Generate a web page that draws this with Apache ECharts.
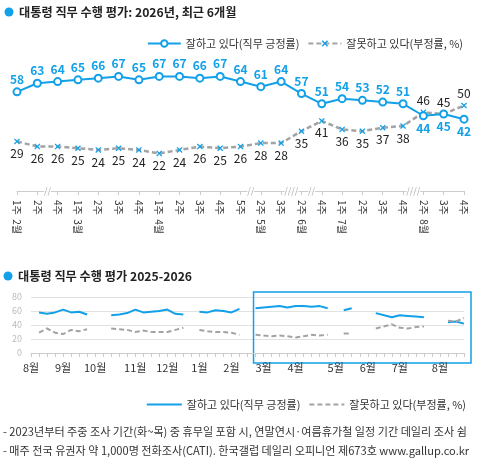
<!DOCTYPE html>
<html>
<head>
<meta charset="utf-8">
<script src="https://cdn.jsdelivr.net/npm/echarts@6/dist/echarts.min.js"></script>
<style>
  html, body { margin: 0; padding: 0; background: #fff; }
  #main { width: 482px; height: 463px; }
</style>
</head>
<body>
<div id="main"></div>
<script>
// 최근 6개월 (상단)
var weeks = ['2월 1주', '2월 2주', '2월 4주', '3월 1주', '3월 2주', '3월 3주', '3월 4주',
  '4월 1주', '4월 2주', '4월 3주', '4월 4주', '4월 5주', '5월 2주', '5월 3주', '6월 2주',
  '6월 4주', '7월 1주', '7월 2주', '7월 3주', '7월 4주', '8월 2주', '8월 3주', '8월 4주'];
var approve = [58, 63, 64, 65, 66, 67, 65, 67, 67, 66, 67, 64, 61, 64, 57, 51, 54, 53, 52, 51, 44, 45, 42];
var disapprove = [29, 26, 26, 25, 24, 25, 24, 22, 24, 26, 25, 26, 28, 28, 35, 41, 36, 35, 37, 38, 46, 45, 50];
// 조사 공백 표시 (두 주 사이)
var breakPos = [1.5, 11.5, 13.5, 14.5, 19.5];
var breakText = ['//', '//', '////', '//', '////'];

// 2025-2026 추이 (하단), 주 단위
var years = [2025, 2025, 2025, 2025, 2025, 2026, 2026, 2026, 2026, 2026, 2026, 2026, 2026];
var months = ['8월', '9월', '10월', '11월', '12월', '1월', '2월', '3월', '4월', '5월', '6월', '7월', '8월'];
var weeksInMonth = [4, 4, 5, 4, 4, 4, 4, 4, 5, 4, 4, 5, 4];
var trendApprove = [null, 58, 56, 58, 62, 58, 59, 55, null, null,
  54, 55, 57, 62, 58, 59, 60, 62, 56, 55, null,
  59, 58, 61, 60, 58, 63, null,
  64, 65, 66, 67, 65, 67, 67, 66, 67, 64, null, 61, 64, null, null,
  57, null, 51, 54, 53, 52, 51, null, null, 44, 45, 42];
var trendDisapprove = [null, 29, 35, 29, 27, 33, 31, 34, null, null,
  35, 34, 33, 30, 32, 30, 30, 30, 33, 36, null,
  33, 31, 30, 30, 29, 26, null,
  26, 25, 24, 25, 24, 22, 24, 26, 25, 26, null, 28, 28, null, null,
  35, null, 41, 36, 35, 37, 38, null, null, 46, 45, 50];
var bridged = [44];      // 6월 3주: 하단 추이선은 이어서 그림
var highlightFrom = 28;  // 상자 시작 (2026년 2월 4주)

var trendWeeks = [];
var trendMonthLabel = [];
months.forEach(function(m, i) {
  for (var k = 1; k <= weeksInMonth[i]; k++) {
    trendWeeks.push(years[i] + '년 ' + m + ' ' + k + '주');
    trendMonthLabel.push(k === 1 ? m : '');
  }
});

var blue = '#12a0e8';
var gray = '#a3a3a3';
var xMark = 'path://M1.5,0L5,3.5L8.5,0L10,1.5L6.5,5L10,8.5L8.5,10L5,6.5L1.5,10L0,8.5L3.5,5L0,1.5Z';
var posName = '잘하고 있다(직무 긍정률)';
var negName = '잘못하고 있다(부정률, %)';

function trendData(arr) {
  var out = [];
  arr.forEach(function(v, i) {
    if (bridged.indexOf(i) >= 0) return;
    out.push([i, v === null ? '-' : v]);
  });
  return out;
}

var chart = echarts.init(document.getElementById('main'));
var option = {
  animation: false,
  textStyle: { fontFamily: 'Noto Sans CJK KR' },
  grid: [
    { left: 17, right: 18, top: 20, bottom: 272 },
    { left: 31, right: 18, top: 297, bottom: 110 }
  ],
  legend: [{
    data: [posName, negName],
    right: 14, top: 33,
    itemWidth: 33, itemHeight: 8, itemGap: 8,
    textStyle: { fontSize: 11, color: '#333' }
  }, {
    data: ['bPos', 'bNeg'],
    right: 11, top: 394,
    itemWidth: 35, itemHeight: 8, itemGap: 8,
    itemStyle: { opacity: 0 },
    formatter: function(n) { return n === 'bPos' ? posName : negName; },
    textStyle: { fontSize: 11, color: '#333' }
  }],
  xAxis: [{
    type: 'category', gridIndex: 0, data: weeks, boundaryGap: false,
    axisLine: { lineStyle: { color: '#cccccc' } },
    axisTick: { length: 4, interval: 0, lineStyle: { color: '#cccccc' } },
    axisLabel: {
      interval: 0, rotate: -90, fontSize: 10, color: '#333', margin: 9,
      formatter: function(v, i) {
        var p = v.split(' ');
        var prev = i > 0 ? weeks[i - 1].split(' ')[0] : '';
        return p[0] !== prev ? p[1] + '  ' + p[0] : p[1];
      }
    }
  }, {
    type: 'category', gridIndex: 1, data: trendWeeks, boundaryGap: false,
    axisLine: { lineStyle: { color: '#cccccc' } },
    axisTick: { length: 4, interval: 0, lineStyle: { color: '#cccccc' } },
    axisLabel: {
      interval: 0, fontSize: 11, color: '#333', margin: 9,
      formatter: function(v, i) { return trendMonthLabel[i]; }
    }
  }, {
    type: 'value', gridIndex: 0, min: 0, max: weeks.length - 1, show: false
  }],
  yAxis: [{
    type: 'value', gridIndex: 0, min: 0, max: 100, show: false
  }, {
    type: 'value', gridIndex: 1, min: 0, max: 80, interval: 20,
    axisLine: { show: false }, axisTick: { show: false },
    axisLabel: { fontSize: 9, color: '#bbbbbb', margin: 9 },
    splitLine: { lineStyle: { color: '#e2e2e2' } }
  }],
  series: [{
    name: posName, type: 'line', xAxisIndex: 0, yAxisIndex: 0, z: 4,
    data: approve.map(function(v, i) {
      return { value: v, label: { position: v <= disapprove[i] ? 'bottom' : 'top' } };
    }),
    symbol: 'emptyCircle', symbolSize: 7,
    lineStyle: { color: blue, width: 2 },
    itemStyle: { color: blue, borderWidth: 1.5 },
    label: { show: true, fontSize: 12, fontWeight: 'bold', color: blue, distance: 2 }
  }, {
    name: negName, type: 'line', xAxisIndex: 0, yAxisIndex: 0, z: 3,
    data: disapprove.map(function(v, i) {
      return { value: v, label: { position: approve[i] <= v ? 'top' : 'bottom' } };
    }),
    symbol: xMark, symbolSize: 6,
    lineStyle: { color: gray, width: 2.5, type: [5, 3] },
    itemStyle: { color: blue },
    label: { show: true, fontSize: 12, color: '#222', distance: 3 }
  }, {
    type: 'scatter', xAxisIndex: 2, yAxisIndex: 0, clip: false, silent: true,
    symbolSize: 1, itemStyle: { color: 'transparent' },
    data: breakPos.map(function(x, i) {
      return { value: [x, 0], label: { formatter: breakText[i] } };
    }),
    label: { show: true, position: 'inside', fontSize: 9, color: '#999', backgroundColor: '#fff' }
  }, {
    name: 'bPos', type: 'line', xAxisIndex: 1, yAxisIndex: 1,
    data: trendData(trendApprove), symbol: 'none',
    lineStyle: { color: blue, width: 2 }, itemStyle: { color: blue }
  }, {
    name: 'bNeg', type: 'line', xAxisIndex: 1, yAxisIndex: 1,
    data: trendData(trendDisapprove), symbol: 'none',
    lineStyle: { color: gray, width: 2, type: [5, 3] }, itemStyle: { color: gray }
  }]
};
chart.setOption(option);

var x0 = chart.convertToPixel({ xAxisIndex: 1 }, highlightFrom) - 2;
var x1 = chart.convertToPixel({ xAxisIndex: 1 }, trendWeeks.length - 1) + 7;
var y0 = chart.convertToPixel({ yAxisIndex: 1 }, 80) - 5;
var y1 = chart.convertToPixel({ yAxisIndex: 1 }, 0) + 10;

chart.setOption({
  graphic: [
    { type: 'circle', shape: { cx: 9, cy: 12, r: 4.5 }, style: { fill: blue } },
    { type: 'text', x: 19, y: 12, style: { text: '대통령 직무 수행 평가: 2026년, 최근 6개월', font: 'bold 12.2px "Noto Sans CJK KR"', fill: '#222', verticalAlign: 'middle' } },
    { type: 'circle', shape: { cx: 8, cy: 276, r: 4.5 }, style: { fill: blue } },
    { type: 'text', x: 18, y: 276, style: { text: '대통령 직무 수행 평가 2025-2026', font: 'bold 12.2px "Noto Sans CJK KR"', fill: '#222', verticalAlign: 'middle' } },
    { type: 'rect', shape: { x: x0, y: y0, width: x1 - x0, height: y1 - y0 }, style: { fill: 'none', stroke: blue, lineWidth: 1.5 } },
    { type: 'text', x: 3, y: 432, style: { text: '- 2023년부터 주중 조사 기간(화~목) 중 휴무일 포함 시, 연말연시·여름휴가철 일정 기간 데일리 조사 쉼', font: '11.1px "Noto Sans CJK KR"', fill: '#333', verticalAlign: 'middle' } },
    { type: 'text', x: 3, y: 451, style: { text: '- 매주 전국 유권자 약 1,000명 전화조사(CATI). 한국갤럽 데일리 오피니언 제673호 www.gallup.co.kr', font: '11.1px "Noto Sans CJK KR"', fill: '#333', verticalAlign: 'middle' } }
  ]
});
</script>
</body>
</html>
